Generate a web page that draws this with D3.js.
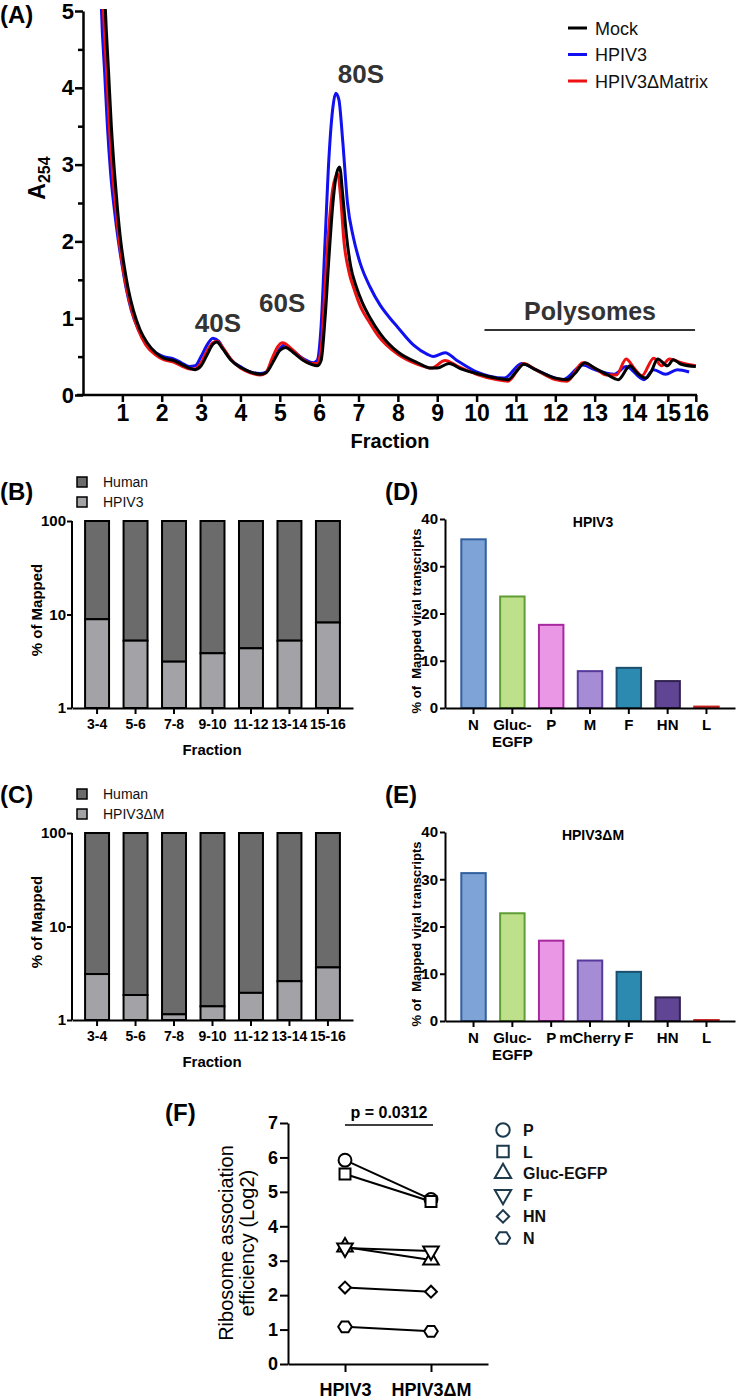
<!DOCTYPE html>
<html><head><meta charset="utf-8">
<script src="https://cdn.jsdelivr.net/npm/d3@7"></script>
<style>
body{margin:0;background:#fff}
svg{display:block}
text{font-family:Arial,"Liberation Sans",sans-serif}
</style>
</head><body>
<svg id="c" width="737" height="1400"></svg>
<script>
// ---------- DATA ----------
// Panel A: polysome profile (x = fraction position, y = A254)
const fractionTicks = [1,2,3,4,5,6,7,8,9,10,11,12,13,14,14.86,15.57];
const fractionLabels = ["1","2","3","4","5","6","7","8","9","10","11","12","13","14","15","16"];
const yTicksA = [0,1,2,3,4,5];
const yMinorA = [0.5,1.5,2.5,3.5,4.5];
const traceNames = ["Mock","HPIV3","HPIV3\u0394Matrix"];
const traceColors = ["#000000","#1010f0","#ee1111"];
const mockTrace = [[0.50,6.0],[0.57,5.0],[0.65,4.2],[0.72,3.5],[0.8,2.9],[0.88,2.4],[0.96,2.0],[1.05,1.67],[1.15,1.38],[1.28,1.1],[1.45,0.85],[1.63,0.68],[1.85,0.55],[2.05,0.48],[2.3,0.45],[2.5,0.4],[2.7,0.35],[2.85,0.33],[3.0,0.38],[3.15,0.52],[3.3,0.66],[3.4,0.69],[3.55,0.6],[3.75,0.46],[4.0,0.36],[4.25,0.3],[4.5,0.27],[4.65,0.29],[4.85,0.45],[5.0,0.58],[5.15,0.62],[5.35,0.55],[5.6,0.45],[5.8,0.4],[5.95,0.38],[6.05,0.45],[6.15,1.0],[6.25,1.8],[6.35,2.5],[6.45,2.9],[6.52,2.97],[6.6,2.6],[6.7,2.05],[6.8,1.68],[6.95,1.4],[7.1,1.2],[7.3,1.0],[7.55,0.8],[8.0,0.56],[8.5,0.42],[8.85,0.35],[9.0,0.35],[9.3,0.41],[9.6,0.34],[10.0,0.28],[10.5,0.22],[10.8,0.2],[11.0,0.3],[11.2,0.4],[11.5,0.33],[12.0,0.22],[12.3,0.2],[12.5,0.28],[12.75,0.42],[13.0,0.35],[13.3,0.27],[13.6,0.2],[13.9,0.38],[14.05,0.3],[14.3,0.22],[14.45,0.32],[14.6,0.47],[14.85,0.38],[15.0,0.46],[15.2,0.4],[15.57,0.37]];
const hpiv3Trace = [[0.42,6.0],[0.47,5.0],[0.55,4.2],[0.62,3.5],[0.7,2.9],[0.8,2.4],[0.9,2.0],[1.0,1.67],[1.1,1.38],[1.23,1.1],[1.4,0.86],[1.6,0.68],[1.85,0.55],[2.05,0.5],[2.3,0.47],[2.5,0.42],[2.7,0.37],[2.85,0.38],[3.0,0.5],[3.15,0.65],[3.3,0.74],[3.45,0.7],[3.6,0.57],[3.8,0.44],[4.0,0.37],[4.25,0.3],[4.5,0.28],[4.65,0.3],[4.85,0.47],[5.0,0.6],[5.12,0.65],[5.35,0.57],[5.6,0.47],[5.85,0.42],[5.95,0.45],[6.05,0.9],[6.15,2.0],[6.25,3.1],[6.35,3.75],[6.42,3.93],[6.5,3.85],[6.6,3.3],[6.72,2.5],[6.87,2.05],[7.04,1.72],[7.3,1.4],[7.55,1.17],[7.8,1.0],[8.0,0.88],[8.4,0.65],[8.75,0.53],[8.9,0.5],[9.2,0.55],[9.5,0.45],[10.0,0.3],[10.7,0.22],[11.15,0.41],[11.5,0.33],[12.2,0.2],[12.7,0.39],[13.0,0.33],[13.5,0.27],[13.8,0.37],[14.25,0.2],[14.5,0.33],[14.8,0.27],[15.1,0.33],[15.4,0.3]];
const deltaMTrace = [[0.45,6.0],[0.52,5.0],[0.6,4.2],[0.67,3.5],[0.75,2.9],[0.84,2.4],[0.92,2.0],[1.01,1.67],[1.11,1.38],[1.24,1.1],[1.41,0.84],[1.6,0.65],[1.85,0.52],[2.05,0.46],[2.3,0.43],[2.5,0.38],[2.7,0.34],[2.85,0.34],[3.0,0.42],[3.15,0.57],[3.3,0.68],[3.4,0.7],[3.55,0.62],[3.75,0.47],[4.0,0.35],[4.25,0.29],[4.5,0.26],[4.65,0.29],[4.8,0.47],[4.95,0.63],[5.07,0.68],[5.3,0.6],[5.55,0.48],[5.8,0.41],[5.95,0.41],[6.05,0.6],[6.15,1.4],[6.25,2.2],[6.35,2.7],[6.47,2.88],[6.55,2.55],[6.63,2.0],[6.75,1.62],[6.9,1.36],[7.05,1.15],[7.25,0.97],[7.5,0.77],[8.0,0.53],[8.5,0.4],[8.85,0.35],[9.2,0.45],[9.5,0.38],[10.0,0.27],[10.5,0.2],[10.8,0.18],[11.2,0.41],[11.5,0.33],[12.0,0.2],[12.3,0.18],[12.7,0.42],[13.0,0.35],[13.3,0.26],[13.55,0.26],[13.8,0.47],[14.0,0.35],[14.2,0.25],[14.5,0.48],[14.7,0.38],[14.9,0.47],[15.2,0.42],[15.57,0.38]];
const peakLabels = ["40S","60S","80S"];
const peakPos = [[3.43,0.82],[5.06,1.08],[7.06,4.06]];

// Panels B & C: % of mapped reads (log scale, stacked)
const fractionPairs = ["3-4","5-6","7-8","9-10","11-12","13-14","15-16"];
const hpiv3Viral = [8.9,5.25,3.13,3.85,4.35,5.25,8.2];
const hpiv3Human = [91.1,94.75,96.87,96.15,95.65,94.75,91.8];
const deltaMViral = [3.1,1.85,1.15,1.4,1.95,2.6,3.65];
const deltaMHuman = [96.9,98.15,98.85,98.6,98.05,97.4,96.35];
const logTicks = [1,10,100];

// Panels D & E: % of mapped viral transcripts
const genesD = ["N","Gluc-EGFP","P","M","F","HN","L"];
const valuesD = [35.7,23.6,17.6,7.8,8.5,5.7,0.3];
const genesE = ["N","Gluc-EGFP","P","mCherry","F","HN","L"];
const valuesE = [31.3,22.8,17.0,12.8,10.4,5.0,0.2];
const geneFill = {"N":"#7ea3d6","Gluc-EGFP":"#bfe08b","P":"#ea97e6","M":"#a68bd5","mCherry":"#a68bd5","F":"#2c8ab0","HN":"#5f4594","L":"#e05555"};
const geneStroke = {"N":"#32609f","Gluc-EGFP":"#5e9e35","P":"#a8289f","M":"#56399a","mCherry":"#56399a","F":"#1b4f6d","HN":"#30214f","L":"#c42020"};
const pctTicks = [0,10,20,30,40];

// Panel F: ribosome association efficiency (log2)
const groupsF = ["HPIV3","HPIV3\u0394M"];
const genesF = ["P","L","Gluc-EGFP","F","HN","N"];
const raeHPIV3 = [5.92,5.52,3.40,3.37,2.22,1.08];
const raeDeltaM = [4.78,4.72,3.02,3.28,2.10,0.95];
const raeTicks = [0,1,2,3,4,5,6,7];

// ---------- DRAW ----------
const svg = d3.select("#c");
const FONT = 'Arial,"Liberation Sans",sans-serif';
const fmtInt = d3.format("d");
function styleAxis(g, sw, fs, weight){
  g.select(".domain").attr("stroke","#000").attr("stroke-width",sw);
  g.selectAll(".tick line").attr("stroke","#000").attr("stroke-width",sw);
  g.selectAll(".tick text").attr("fill","#000").attr("font-size",fs).attr("font-weight",weight||"bold").attr("font-family",FONT);
}
function panelLabel(t,x,y){
  svg.append("text").attr("x",x).attr("y",y).attr("font-size",24).attr("font-weight","bold").text(t);
}

// ===== Panel A =====
panelLabel("(A)",0,23);
const xA = d3.scaleLinear().domain([0,15.6]).range([83,697]);
const yA = d3.scaleLinear().domain([0,5]).range([395,11]);
svg.append("defs").append("clipPath").attr("id","clipA").append("rect")
  .attr("x",83).attr("y",9).attr("width",620).attr("height",387);
const lineA = d3.line().x(d=>xA(d[0])).y(d=>yA(d[1])).curve(d3.curveMonotoneX);
const traces = [mockTrace,hpiv3Trace,deltaMTrace];
const drawOrder = [1,2,0];
const gT = svg.append("g").attr("clip-path","url(#clipA)");
drawOrder.forEach(i=>{
  gT.append("path").datum(traces[i]).attr("d",lineA).attr("fill","none")
    .attr("stroke",traceColors[i]).attr("stroke-width",3).attr("stroke-linejoin","round");
});
// axes
const axA_x = svg.append("g").attr("transform","translate(0,395)")
  .call(d3.axisBottom(xA).tickValues(fractionTicks).tickFormat((d,i)=>fractionLabels[i]).tickSize(7).tickSizeOuter(0));
styleAxis(axA_x,2.5,23);
axA_x.select(".domain").attr("d","M77,0H697");
const axA_y = svg.append("g").attr("transform","translate(83,0)")
  .call(d3.axisLeft(yA).tickValues(yTicksA).tickFormat(fmtInt).tickSize(8).tickPadding(1).tickSizeOuter(0));
styleAxis(axA_y,2.5,22);
svg.append("g").attr("transform","translate(83,0)")
  .call(d3.axisLeft(yA).tickValues(yMinorA).tickSize(5).tickFormat("").tickSizeOuter(0))
  .call(g=>{g.select(".domain").remove(); g.selectAll("line").attr("stroke","#000").attr("stroke-width",2.5);});
// A254 label
const a254 = svg.append("text").attr("transform","translate(45,178) rotate(-90)").attr("text-anchor","middle")
  .attr("font-weight","bold");
a254.append("tspan").attr("font-size",23).text("A");
a254.append("tspan").attr("font-size",16).attr("dy",5).text("254");
svg.append("text").attr("x",390).attr("y",448).attr("text-anchor","middle").attr("font-size",20).attr("font-weight","bold").text("Fraction");
// peak labels
peakLabels.forEach((t,i)=>{
  svg.append("text").attr("x",xA(peakPos[i][0])).attr("y",yA(peakPos[i][1])).attr("text-anchor","middle")
    .attr("font-size",26).attr("font-weight","bold").attr("fill","#333").text(t);
});
svg.append("text").attr("x",590).attr("y",320).attr("text-anchor","middle").attr("font-size",25).attr("font-weight","bold").attr("fill","#333").text("Polysomes");
svg.append("line").attr("x1",xA(10.2)).attr("x2",xA(15.55)).attr("y1",330).attr("y2",330).attr("stroke","#333").attr("stroke-width",2);
// legend A
traceNames.forEach((n,i)=>{
  const y = 28 + i*26.5;
  svg.append("line").attr("x1",568).attr("x2",587).attr("y1",y).attr("y2",y).attr("stroke",traceColors[i]).attr("stroke-width",3);
  svg.append("text").attr("x",595).attr("y",y+6.5).attr("font-size",18).attr("fill","#111").text(n);
});

// ===== Panels B & C =====
function drawStack(off, viral, human, legendName, label, labelY){
  panelLabel(label,0,labelY);
  const x = d3.scaleBand().domain(fractionPairs).range([72,353]).paddingInner(0.377).paddingOuter(0.34);
  const y = d3.scaleLog().domain([1,100]).range([708+off,521+off]);
  const g = svg.append("g");
  fractionPairs.forEach((f,i)=>{
    const v = viral[i], h = human[i];
    g.append("rect").attr("x",x(f)).attr("width",x.bandwidth()).attr("y",y(v+h)).attr("height",y(v)-y(v+h))
      .attr("fill","#6b6b6b").attr("stroke","#000").attr("stroke-width",2);
    g.append("rect").attr("x",x(f)).attr("width",x.bandwidth()).attr("y",y(v)).attr("height",y(1)-y(v))
      .attr("fill","#a3a3a7").attr("stroke","#000").attr("stroke-width",2);
  });
  const ax = svg.append("g").attr("transform",`translate(0,${708+off})`)
    .call(d3.axisBottom(x).tickSize(6).tickSizeOuter(0).tickPadding(5));
  styleAxis(ax,2,14);
  const ay = svg.append("g").attr("transform","translate(72,0)")
    .call(d3.axisLeft(y).tickValues(logTicks).tickFormat(fmtInt).tickSize(5).tickPadding(1).tickSizeOuter(0));
  styleAxis(ay,2,15);
  ay.select(".domain").attr("d",`M0,${521+off}V${708+off}`);
  svg.append("text").attr("transform",`translate(42,${610+off}) rotate(-90)`).attr("text-anchor","middle")
    .attr("font-size",15).attr("font-weight","bold").text("% of Mapped");
  svg.append("text").attr("x",212).attr("y",755+off).attr("text-anchor","middle").attr("font-size",15).attr("font-weight","bold").text("Fraction");
  // legend
  [["Human","#6b6b6b"],[legendName,"#a3a3a7"]].forEach((d,i)=>{
    const yy = 477 + off + i*20;
    svg.append("rect").attr("x",77).attr("y",yy).attr("width",10).attr("height",10).attr("fill",d[1]).attr("stroke","#000").attr("stroke-width",1.5);
    svg.append("text").attr("x",103).attr("y",yy+10).attr("font-size",14).attr("fill","#111").text(d[0]);
  });
}
drawStack(0,hpiv3Viral,hpiv3Human,"HPIV3","(B)",500);
drawStack(312,deltaMViral,deltaMHuman,"HPIV3\u0394M","(C)",803);

// ===== Panels D & E =====
function drawGenes(off, genes, values, title, label, labelY){
  panelLabel(label,385,labelY);
  const x = d3.scaleBand().domain(genes).range([445,735]).paddingInner(0.37).paddingOuter(0.42);
  const y = d3.scaleLinear().domain([0,40]).range([708+off,519+off]);
  genes.forEach((gname,i)=>{
    svg.append("rect").attr("x",x(gname)).attr("width",x.bandwidth()).attr("y",y(values[i])).attr("height",y(0)-y(values[i]))
      .attr("fill",geneFill[gname]).attr("stroke",geneStroke[gname]).attr("stroke-width",2);
  });
  const ax = svg.append("g").attr("transform",`translate(0,${708+off})`)
    .call(d3.axisBottom(x).tickSize(6).tickSizeOuter(0).tickPadding(5));
  styleAxis(ax,2,15);
  ax.selectAll(".tick text").each(function(d){
    const t = d3.select(this); const parts = d.split("-");
    if(parts.length>1){
      t.text(null);
      t.append("tspan").attr("x",0).text(parts[0]+"-");
      t.append("tspan").attr("x",0).attr("dy","1.15em").text(parts[1]);
    }
  });
  const ay = svg.append("g").attr("transform","translate(445,0)")
    .call(d3.axisLeft(y).tickValues(pctTicks).tickFormat(fmtInt).tickSize(5).tickPadding(2).tickSizeOuter(0));
  styleAxis(ay,2,15);
  svg.append("text").attr("transform",`translate(421,${621+off}) rotate(-90)`).attr("text-anchor","middle")
    .attr("font-size",13).attr("font-weight","bold").style("white-space","pre").text("% of  Mapped viral transcripts");
  svg.append("text").attr("x",593).attr("y",527+off).attr("text-anchor","middle").attr("font-size",14).attr("font-weight","bold").text(title);
}
drawGenes(0,genesD,valuesD,"HPIV3","(D)",500);
drawGenes(313,genesE,valuesE,"HPIV3\u0394M","(E)",803);

// ===== Panel F =====
panelLabel("(F)",165,1121);
const xF = d3.scalePoint().domain(groupsF).range([288,488]).padding(0.663);
const yF = d3.scaleLinear().domain([0,7]).range([1364,1123]);
const hexagon = {draw(ctx,size){ const r=Math.sqrt(size/2.6); for(let k=0;k<6;k++){const a=Math.PI/3*k; const px=r*Math.cos(a), py=r*Math.sin(a)*0.92; k?ctx.lineTo(px,py):ctx.moveTo(px,py);} ctx.closePath(); }};
const symTypes = [d3.symbolCircle,d3.symbolSquare,d3.symbolTriangle,d3.symbolTriangle,d3.symbolSquare,hexagon];
const symRot = [0,0,0,180,45,0];
const symSize = [130,120,105,105,70,120];
genesF.forEach((g,i)=>{
  svg.append("line").attr("x1",xF(groupsF[0])).attr("y1",yF(raeHPIV3[i])).attr("x2",xF(groupsF[1])).attr("y2",yF(raeDeltaM[i]))
    .attr("stroke","#000").attr("stroke-width",2);
});
genesF.forEach((g,i)=>{
  [raeHPIV3[i],raeDeltaM[i]].forEach((v,j)=>{
    svg.append("path").attr("d",d3.symbol().type(symTypes[i]).size(symSize[i])())
      .attr("transform",`translate(${xF(groupsF[j])},${yF(v)}) rotate(${symRot[i]})`)
      .attr("fill","#fff").attr("stroke","#000").attr("stroke-width",2);
  });
});
const axF_x = svg.append("g").attr("transform","translate(0,1364)")
  .call(d3.axisBottom(xF).tickSize(8).tickPadding(11).tickSizeOuter(0));
styleAxis(axF_x,2,18);
const axF_y = svg.append("g").attr("transform","translate(288,0)")
  .call(d3.axisLeft(yF).tickValues(raeTicks).tickFormat(fmtInt).tickSize(8).tickPadding(2).tickSizeOuter(0));
styleAxis(axF_y,2,18);
const ylF = svg.append("text").attr("transform","translate(233,1243) rotate(-90)").attr("text-anchor","middle").attr("font-size",20);
ylF.append("tspan").attr("x",0).text("Ribosome association");
ylF.append("tspan").attr("x",0).attr("dy",21).text("efficiency (Log2)");
svg.append("text").attr("x",389).attr("y",1118).attr("text-anchor","middle").attr("font-size",16).attr("font-weight","bold").text("p = 0.0312");
svg.append("line").attr("x1",xF(groupsF[0])).attr("x2",xF(groupsF[1])+2).attr("y1",1125).attr("y2",1125).attr("stroke","#000").attr("stroke-width",1.5);
genesF.forEach((g,i)=>{
  const y = 1130 + i*21.6;
  svg.append("path").attr("d",d3.symbol().type(symTypes[i]).size(symSize[i]*1.1)())
    .attr("transform",`translate(503,${y}) rotate(${symRot[i]})`)
    .attr("fill","#fff").attr("stroke","#1d3a4c").attr("stroke-width",2);
  svg.append("text").attr("x",523).attr("y",y+6).attr("font-size",16).attr("font-weight","bold").attr("fill","#111").text(g);
});
</script>
</body></html>
